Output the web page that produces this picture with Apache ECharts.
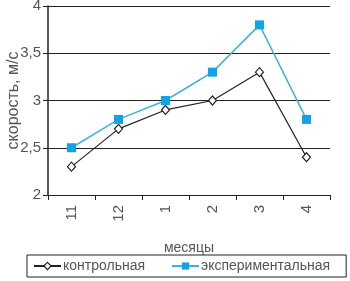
<!DOCTYPE html>
<html><head><meta charset="utf-8">
<script src="https://cdn.jsdelivr.net/npm/echarts@6/dist/echarts.min.js"></script>
<style>html,body{margin:0;padding:0;background:#fff}#c{width:350px;height:281px}</style>
</head><body><div id="c"></div>
<script>
var categories = ['11', '12', '1', '2', '3', '4'];
var control = [2.3, 2.7, 2.9, 3.0, 3.3, 2.4];
var experimental = [2.5, 2.8, 3.0, 3.3, 3.8, 2.8];
var seriesNames = ['контрольная', 'экспериментальная'];
var yTicks = [2, 2.5, 3, 3.5, 4];

var font = 'Liberation Sans';
var chart = echarts.init(document.getElementById('c'), null, {renderer: 'canvas'});
chart.setOption({
  animation: false,
  textStyle: {fontFamily: font},
  grid: {left: 48, right: 20, top: 6, bottom: 86, outerBoundsMode: 'none', containLabel: false},
  xAxis: {
    type: 'category', data: categories, boundaryGap: true,
    name: 'месяцы', nameLocation: 'middle', nameGap: 46, nameMoveOverlap: false,
    nameTextStyle: {color: '#555', fontSize: 14, fontFamily: font},
    axisLine: {lineStyle: {color: '#222', width: 1}},
    axisTick: {show: true, length: 5, lineStyle: {color: '#222'}},
    axisLabel: {rotate: 90, margin: 10, color: '#555', fontSize: 15, fontFamily: font}
  },
  yAxis: {
    type: 'value', min: yTicks[0], max: yTicks[yTicks.length - 1], interval: 0.5,
    name: 'скорость, м/с', nameLocation: 'middle', nameGap: 26, nameMoveOverlap: false,
    nameTextStyle: {color: '#555', fontSize: 16, fontFamily: font},
    axisLine: {show: true, lineStyle: {color: '#222', width: 1.5}},
    axisTick: {show: true, length: 5, lineStyle: {color: '#222'}},
    splitLine: {lineStyle: {color: '#222', width: 1}},
    axisLabel: {color: '#555', fontSize: 15, margin: 7, fontFamily: font,
      formatter: function (v) { return String(v).replace('.', ','); }}
  },
  legend: {
    left: 27, top: 255,
    padding: [4, 16, 4, 6], itemGap: 26, itemWidth: 27, itemHeight: 9,
    borderColor: '#222', borderWidth: 1,
    textStyle: {color: '#555', fontSize: 14, fontFamily: font, padding: [0, 0, 0, -3]},
    data: [
      {name: seriesNames[0], itemStyle: {color: '#fff', borderColor: '#222', borderWidth: 1.2}},
      {name: seriesNames[1]}
    ]
  },
  series: [
    {
      name: seriesNames[0], type: 'line', data: control,
      symbol: 'diamond', symbolSize: [8, 9],
      lineStyle: {color: '#222', width: 1.2},
      itemStyle: {color: '#fff', borderColor: '#222', borderWidth: 1.2}
    },
    {
      name: seriesNames[1], type: 'line', data: experimental,
      symbol: 'rect', symbolSize: 9,
      lineStyle: {color: '#3fb1dc', width: 1.5},
      itemStyle: {color: '#12a2e6', borderWidth: 0}
    }
  ]
});
</script></body></html>
